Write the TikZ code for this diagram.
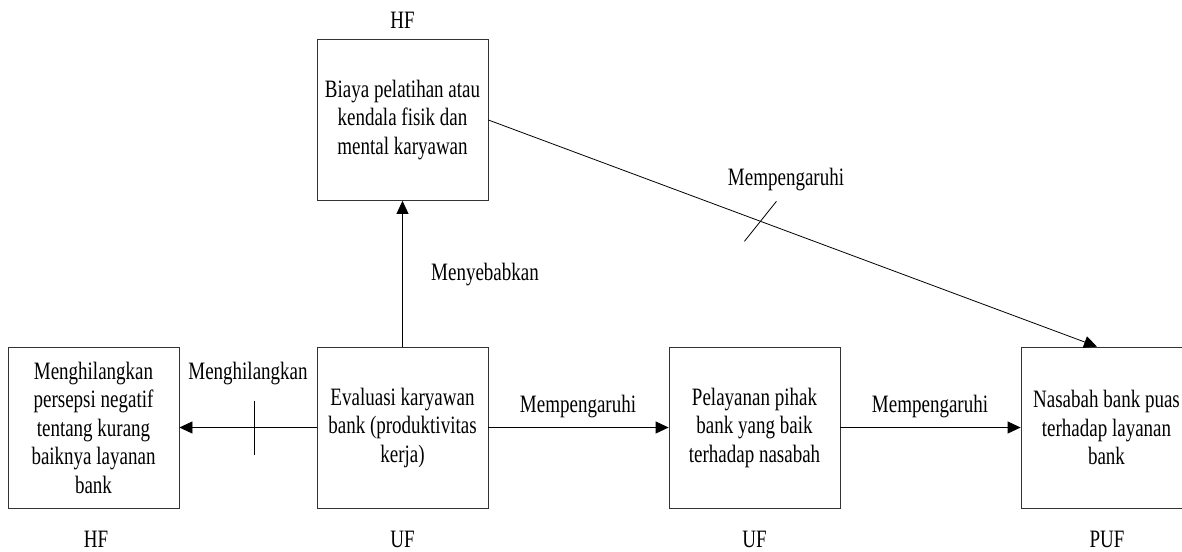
\documentclass[tikz,border=0pt]{standalone}
\usepackage{fontspec}
\setmainfont[FakeStretch=0.76]{Liberation Serif}
\usetikzlibrary{arrows.meta}
\tikzset{
  >={Triangle[length=13pt,width=12pt]},
  link/.style={->, draw=black, line width=0.8pt},
  slash/.style={draw=black, line width=0.8pt},
  factor/.style={draw=black!80, fill=white, line width=0.8pt,
                 minimum width=171pt, minimum height=161pt, align=center,
                 font=\fontsize{25}{28.5}\selectfont},
  tag/.style={font=\fontsize{25}{28}\selectfont},
  lbl/.style={font=\fontsize{25}{28}\selectfont},
}
\begin{document}
\begin{tikzpicture}[x=1pt,y=-1pt]
\useasboundingbox (0,0) rectangle (1182,551);

% Factors ----------------------------------------------------------------------
\node[factor] (biaya) at (402.5,120) {Biaya pelatihan atau\\kendala fisik dan\\mental karyawan};
\node[factor] (persepsi) at (93.5,427.5) {Menghilangkan\\persepsi negatif\\tentang kurang\\baiknya layanan\\bank};
\node[factor] (eval) at (402.5,427.5) {Evaluasi karyawan\\bank (produktivitas\\kerja)};
\node[factor] (layanan) at (754.5,427.5) {Pelayanan pihak\\bank yang baik\\terhadap nasabah};
\node[factor] (puas) at (1106.5,427.5) {Nasabah bank puas\\terhadap layanan\\bank};

% Factor types -----------------------------------------------------------------
\node[tag] (tbiaya) at (402.5,20) {HF};
\node[tag] (tpersepsi) at (96,539) {HF};
\node[tag] (teval) at (402.5,539) {UF};
\node[tag] (tlayanan) at (754.5,539) {UF};
\node[tag] (tpuas) at (1107,539) {PUF};

% Relations --------------------------------------------------------------------
\draw[link] (eval) -- (biaya);
\node[lbl] (lsebab) at (485,275) {Menyebabkan};

\draw[link] (eval) -- coordinate[pos=0.457] (cut1) (persepsi);
\draw[slash] (cut1) ++(0,-27) -- ++(0,54);
\node[lbl] (lhilang) at (248,374) {Menghilangkan};

\draw[link] (eval) -- (layanan);
\node[lbl] (lpengaruh1) at (578,407) {Mempengaruhi};

\draw[link] (layanan) -- (puas);
\node[lbl] (lpengaruh2) at (930,407) {Mempengaruhi};

\draw[link] (biaya.east) -- coordinate[pos=0.447] (cut2) ([xshift=-9.5pt]puas.north);
\draw[slash] (cut2) ++(-16,20) -- ++(32,-40);
\node[lbl] (lpengaruh3) at (786,180) {Mempengaruhi};

\end{tikzpicture}
\end{document}
